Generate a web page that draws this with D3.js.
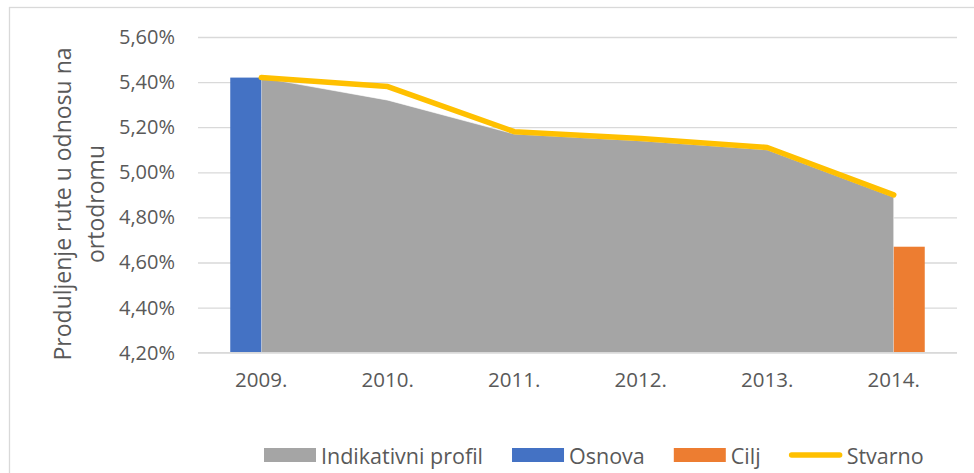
<!DOCTYPE html>
<html>
<head>
<meta charset="utf-8">
<script src="https://cdn.jsdelivr.net/npm/d3@7"></script>
<style>
  html, body { margin: 0; padding: 0; background: #fff; }
  svg { display: block; }
  text { font-family: "Open Sans", "Noto Sans", sans-serif; fill: #595959; }
</style>
</head>
<body>
<svg id="chart" width="974" height="473"></svg>
<script>
// ---- data ----
const categories = ["2009.", "2010.", "2011.", "2012.", "2013.", "2014."];
const indikativniProfil = [5.42, 5.32, 5.17, 5.14, 5.10, 4.89];
const osnova = [5.42, null, null, null, null, null];
const cilj = [null, null, null, null, null, 4.67];
const stvarno = [5.42, 5.38, 5.18, 5.15, 5.11, 4.90];
const yTicks = [4.2, 4.4, 4.6, 4.8, 5.0, 5.2, 5.4, 5.6];
const barSeries = ["Osnova", "Cilj"];
const legendItems = ["Indikativni profil", "Osnova", "Cilj", "Stvarno"];
const yTitleLines = ["Produljenje rute u odnosu na", "ortodromu"];

const colors = { area: "#A5A5A5", Osnova: "#4472C4", Cilj: "#ED7D31", line: "#FFC000" };

const svg = d3.select("#chart");

// chart border (extends beyond right/bottom edges)
svg.append("rect").attr("x", 9.5).attr("y", 7.5).attr("width", 1000).attr("height", 500)
  .attr("fill", "none").attr("stroke", "#D9D9D9").attr("stroke-width", 1.3);

const plot = { left: 198, right: 957, top: 37, bottom: 352.7 };

const x = d3.scaleBand().domain(categories).range([plot.left, plot.right]).padding(0);
const xc = d => x(d) + x.bandwidth() / 2;
const y = d3.scaleLinear().domain([4.2, 5.6]).range([plot.bottom, plot.top]);

// gridlines + y tick labels via axis
const yAxis = d3.axisLeft(y).tickValues(yTicks)
  .tickSize(-(plot.right - plot.left)).tickPadding(23)
  .tickFormat(d => d3.format(".2f")(d).replace(".", ",") + "%");
const gy = svg.append("g").attr("transform", `translate(${plot.left},0)`).call(yAxis);
gy.select(".domain").remove();
gy.selectAll(".tick line").attr("stroke", "#D9D9D9").attr("stroke-width", 1.3);
gy.selectAll(".tick text").attr("font-size", 20).attr("fill", "#595959")
  .style("font-family", "'Open Sans', sans-serif");

// area (Indikativni profil)
const areaData = categories.map((c, i) => ({ c, v: indikativniProfil[i] }));
const area = d3.area().x(d => xc(d.c)).y0(y(4.2)).y1(d => y(d.v));
svg.append("path").datum(areaData).attr("d", area)
  .attr("fill", colors.area).attr("stroke", "#ffffff").attr("stroke-opacity", 0.6).attr("stroke-width", 1);

// clustered bars
const barW = 31;
const sub = d3.scaleBand().domain(barSeries).range([-barW, barW]).padding(0);
const barData = [];
categories.forEach((c, i) => {
  if (osnova[i] != null) barData.push({ c, s: "Osnova", v: osnova[i] });
  if (cilj[i] != null) barData.push({ c, s: "Cilj", v: cilj[i] });
});
svg.append("g").selectAll("rect").data(barData).join("rect")
  .attr("x", d => xc(d.c) + sub(d.s))
  .attr("width", sub.bandwidth())
  .attr("y", d => y(d.v))
  .attr("height", d => y(4.2) - y(d.v))
  .attr("fill", d => colors[d.s]);

// baseline gridline on top
svg.append("line").attr("x1", plot.left).attr("x2", plot.right)
  .attr("y1", y(4.2)).attr("y2", y(4.2)).attr("stroke", "#D9D9D9").attr("stroke-width", 1.3);

// line (Stvarno)
const lineData = categories.map((c, i) => ({ c, v: stvarno[i] }));
svg.append("path").datum(lineData)
  .attr("d", d3.line().x(d => xc(d.c)).y(d => y(d.v)))
  .attr("fill", "none").attr("stroke", colors.line).attr("stroke-width", 5.5)
  .attr("stroke-linecap", "round").attr("stroke-linejoin", "round");

// x axis labels
const xAxis = d3.axisBottom(x).tickSize(0).tickPadding(20);
const gx = svg.append("g").attr("transform", `translate(0,${plot.bottom})`).call(xAxis);
gx.select(".domain").remove();
gx.selectAll(".tick text").attr("font-size", 20.5).attr("fill", "#595959")
  .style("font-family", "'Open Sans', sans-serif");

// y axis title
const titleG = svg.append("g").attr("transform", "translate(0,204) rotate(-90)");
yTitleLines.forEach((t, i) => {
  titleG.append("text").attr("x", 0).attr("y", 62 + i * 33)
    .attr("text-anchor", "middle").attr("dominant-baseline", "central")
    .attr("font-size", 23).text(t);
});

// legend (laid out from measured text widths)
const lg = svg.append("g");
let lx = 264;
legendItems.forEach((name) => {
  const g = lg.append("g").attr("transform", `translate(${lx},455)`);
  if (name === "Stvarno") {
    g.append("line").attr("x1", 2).attr("x2", 50).attr("y1", 0).attr("y2", 0)
      .attr("stroke", colors.line).attr("stroke-width", 5.5).attr("stroke-linecap", "round");
  } else {
    const col = name === "Indikativni profil" ? colors.area : colors[name];
    g.append("rect").attr("x", 0).attr("y", -7).attr("width", 52).attr("height", 14).attr("fill", col);
  }
  const t = g.append("text").attr("x", 57).attr("y", 0).attr("dominant-baseline", "central")
    .attr("font-size", 21.5).text(name);
  lx += 57 + t.node().getComputedTextLength() + 29;
});
</script>
</body>
</html>
